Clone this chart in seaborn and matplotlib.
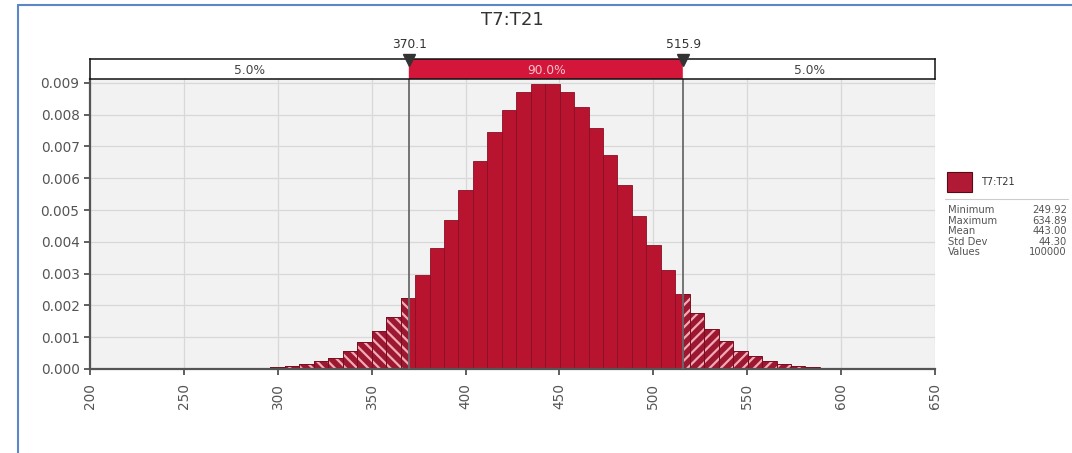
import numpy as np
import pandas as pd
import matplotlib
matplotlib.use("Agg")
import matplotlib.pyplot as plt
import seaborn as sns
from matplotlib.patches import Rectangle
from matplotlib.lines import Line2D

# Histogram of T7:T21 (50 equal bins from min to max), heights
bin_lo = 249.92
bin_hi = 634.89
n_bins = 50
density = [
    0.00001, 0.00001, 0.00001, 0.00002, 0.00003, 0.00004, 0.00006, 0.00009, 0.00016, 0.00024,
    0.00036, 0.00057, 0.00085, 0.00121, 0.00165, 0.00224, 0.00296, 0.00380, 0.00470, 0.00563,
    0.00655, 0.00744, 0.00816, 0.00872, 0.00895, 0.00897, 0.00872, 0.00825, 0.00757, 0.00673,
    0.00579, 0.00480, 0.00390, 0.00312, 0.00236, 0.00176, 0.00126, 0.00087, 0.00057, 0.00040,
    0.00024, 0.00016, 0.00009, 0.00006, 0.00004, 0.00002, 0.00002, 0.00001, 0.00001, 0.00001,
]

# delimiters and the share of values in each zone
cuts = [370.1, 515.9]
cut_labels = ["370.1", "515.9"]
zone_labels = ["5.0%", "90.0%", "5.0%"]

title = "T7:T21"
stat_names = ["Minimum", "Maximum", "Mean", "Std Dev", "Values"]
stat_values = ["249.92", "634.89", "443.00", "44.30", "100000"]

x_ticks = [200, 250, 300, 350, 400, 450, 500, 550, 600, 650]
y_ticks = [0.000, 0.001, 0.002, 0.003, 0.004, 0.005, 0.006, 0.007, 0.008, 0.009]

# split bins at the delimiters so each piece gets its own zone
edges = np.linspace(bin_lo, bin_hi, n_bins + 1)
seg_edges = np.sort(np.concatenate([edges, cuts]))
df = pd.DataFrame({"lo": seg_edges[:-1], "hi": seg_edges[1:]})
df["x"] = (df.lo + df.hi) / 2
df["h"] = np.array(density)[np.clip(np.searchsorted(edges, df.x) - 1, 0, n_bins - 1)]
df["zone"] = np.where(df.x < cuts[0], "low", np.where(df.x > cuts[1], "high", "mid"))

sns.set_style("white")
plt.rcParams["font.family"] = ["DejaVu Sans"]
plt.rcParams["hatch.linewidth"] = 1.6

W, H = 1072, 453
fig = plt.figure(figsize=(W / 100, H / 100), dpi=100)
ax_l, ax_r, ax_b, ax_t = 90 / W, 935 / W, 1 - 369 / H, 1 - 79 / H
ax = fig.add_axes([ax_l, ax_b, ax_r - ax_l, ax_t - ax_b])
ax.set_facecolor("#f2f2f2")

dark_edge = "#7a0e1f"
for zone in ["low", "mid", "high"]:
    sub = df[df.zone == zone]
    zone_edges = list(sub.lo) + [sub.hi.iloc[-1]]
    n0 = len(ax.patches)
    if zone == "mid":
        sns.histplot(data=sub, x="x", weights="h", bins=zone_edges, ax=ax,
                     color="#b8142f", edgecolor="#8a0f24", linewidth=0.6, alpha=1)
    else:
        sns.histplot(data=sub, x="x", weights="h", bins=zone_edges, ax=ax,
                     color="#9b1830", alpha=1, linewidth=0)
        for p in ax.patches[n0:]:
            p.set_hatch("\\\\\\" if zone == "low" else "///")
            p.set_edgecolor("#f2a9b8")
            p.set_linewidth(0)
        sns.histplot(data=sub, x="x", weights="h", bins=zone_edges, ax=ax,
                     fill=False, color=dark_edge, linewidth=0.7)

for c in cuts:
    ax.axvline(c, color="#6a6a6a", lw=1.3, zorder=5)

ax.set_xlim(200, 650)
ax.set_ylim(0, 0.00912)
ax.set_xticks(x_ticks)
ax.set_yticks(y_ticks)
ax.set_yticklabels([f"{v:.3f}" for v in y_ticks])
ax.set_xticklabels([str(v) for v in x_ticks], rotation=90)
ax.set_xlabel("")
ax.set_ylabel("")
ax.grid(True, color="#d8d8d8", lw=0.9)
ax.set_axisbelow(True)
ax.tick_params(axis="both", colors="#444444", labelsize=9.8, length=4, width=1.2,
               bottom=True, left=True, labelcolor="#555555")
ax.tick_params(axis="x", pad=6)
for s in ["top", "right"]:
    ax.spines[s].set_visible(False)
for s in ["left", "bottom"]:
    ax.spines[s].set_color("#555555")
    ax.spines[s].set_linewidth(1.6)

# delimiter band above the plot
band = fig.add_axes([ax_l, ax_t, ax_r - ax_l, 20 / H])
band.set_xlim(200, 650)
band.set_ylim(0, 1)
band.axvspan(200, cuts[0], color="white")
band.axvspan(cuts[0], cuts[1], color="#d3163a")
band.axvspan(cuts[1], 650, color="white")
zone_mid = [(200 + cuts[0]) / 2, (cuts[0] + cuts[1]) / 2, (cuts[1] + 650) / 2]
for xm, lab, col in zip(zone_mid, zone_labels, ["#444444", "#f4c3cb", "#444444"]):
    band.text(xm, 0.45, lab, ha="center", va="center", fontsize=8.8, color=col)
for c, lab in zip(cuts, cut_labels):
    band.plot(c, 0.97, marker="v", ms=8, color="#333333", clip_on=False, zorder=6)
    band.text(c, 1.75, lab, ha="center", va="center", fontsize=8.8, color="#333333")
band.set_xticks([])
band.set_yticks([])
for s in band.spines.values():
    s.set_color("#111111")
    s.set_linewidth(1.1)

fig.text((ax_l + ax_r) / 2, 1 - 20 / H, title, ha="center", va="center",
         fontsize=13, color="#333333")

# legend and stats box on the right
fig.patches.append(Rectangle((947 / W, 1 - 192 / H), 25 / W, 20 / H, transform=fig.transFigure,
                             facecolor="#b01a35", edgecolor="#5a0a15", lw=0.8))
fig.text(981 / W, 1 - 182 / H, title, ha="left", va="center", fontsize=7, color="#333333")
fig.lines.append(Line2D([945 / W, 1068 / W], [1 - 199 / H] * 2, transform=fig.transFigure,
                        color="#cccccc", lw=0.8))
for i, (name, val) in enumerate(zip(stat_names, stat_values)):
    yy = 1 - (210 + i * 10.6) / H
    fig.text(948 / W, yy, name, ha="left", va="center", fontsize=7.2, color="#555555")
    fig.text(1067 / W, yy, val, ha="right", va="center", fontsize=7.2, color="#555555")

# blue frame of the screenshot
frame = "#5b86c8"
fig.lines.append(Line2D([18 / W, 1], [1 - 5 / H] * 2, transform=fig.transFigure, color=frame, lw=1.5))
fig.lines.append(Line2D([18 / W] * 2, [0, 1 - 5 / H], transform=fig.transFigure, color=frame, lw=1.5))

fig.savefig("out.png", dpi=100)
